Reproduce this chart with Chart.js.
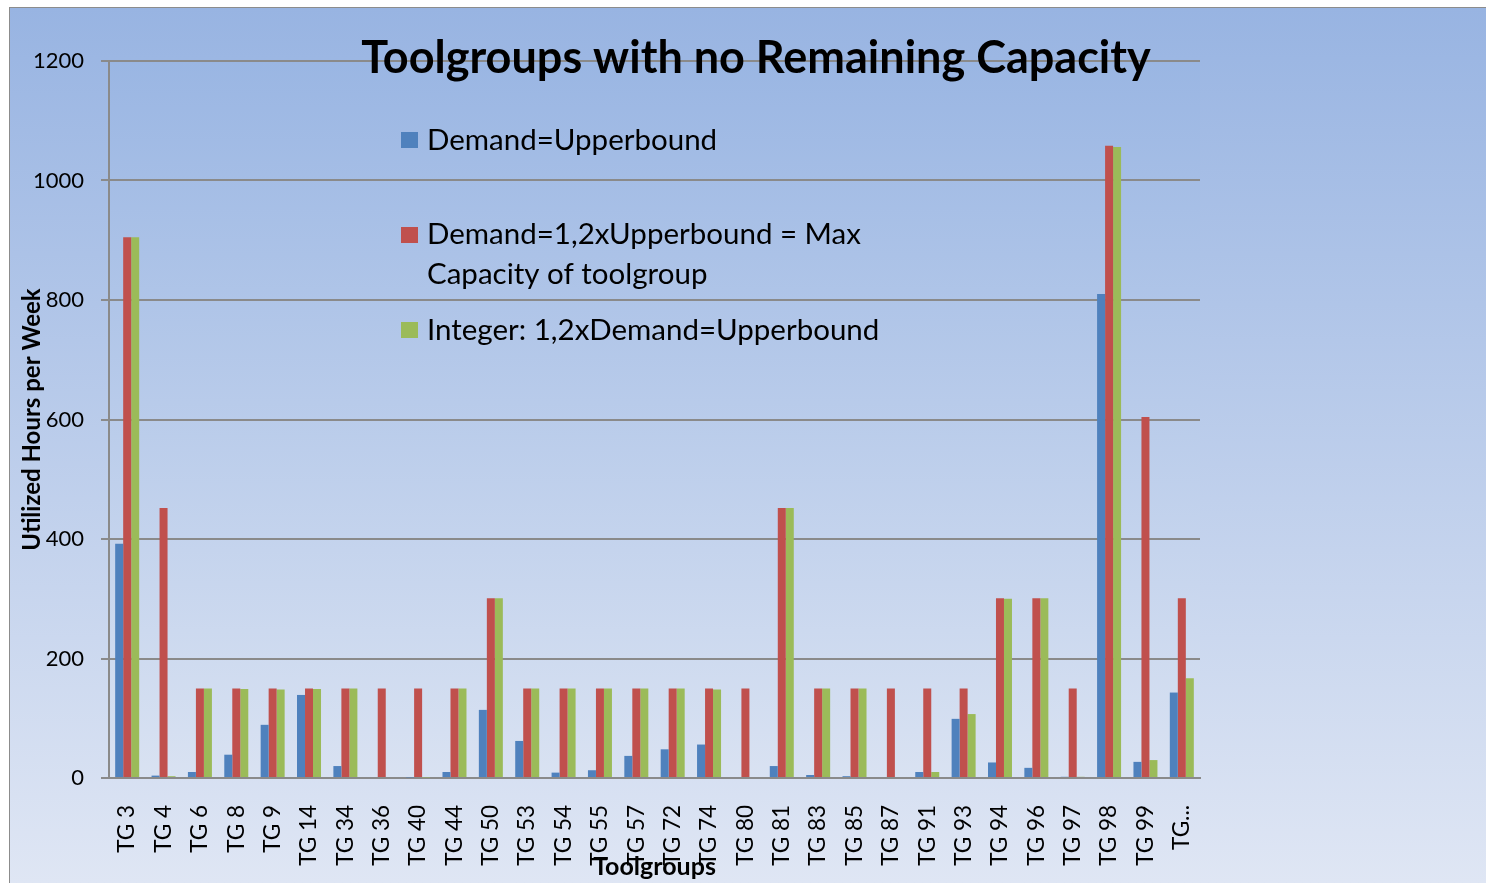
<!DOCTYPE html>
<html>
<head>
<meta charset="utf-8">
<script src="https://cdn.jsdelivr.net/npm/chart.js@4.4.0/dist/chart.umd.min.js"></script>
<style>
  body { margin: 0; background: #ffffff; overflow: hidden; }
  #frame {
    position: absolute; left: 9px; top: 7px; width: 1477px; height: 900px;
    border-left: 1px solid #8c8c8c; border-top: 1px solid #8c8c8c;
    background: linear-gradient(to bottom, #98b4e2 0px, #dfe6f4 875px);
  }
  #chart { position: absolute; left: 0; top: 0; }
</style>
</head>
<body>
<div id="frame"><canvas id="chart" width="1476" height="895"></canvas></div>
<script>
const toolgroups = ["TG 3","TG 4","TG 6","TG 8","TG 9","TG 14","TG 34","TG 36","TG 40","TG 44",
  "TG 50","TG 53","TG 54","TG 55","TG 57","TG 72","TG 74","TG 80","TG 81","TG 83",
  "TG 85","TG 87","TG 91","TG 93","TG 94","TG 96","TG 97","TG 98","TG 99","TG..."]

const demandUpper = [392, 4, 10, 39, 89, 139, 20, 0, 1, 10,
  114, 62, 9, 13, 37, 48, 56, 0, 20, 5,
  3, 0, 10, 99, 26, 17, 2, 810, 27, 143]

const demandMax = [905, 452, 150, 150, 150, 150, 150, 150, 150, 150,
  301, 150, 150, 150, 150, 150, 150, 150, 452, 150,
  150, 150, 150, 150, 301, 301, 150, 1058, 604, 301]

const integerDemand = [905, 3, 150, 149, 148, 149, 150, 0, 1, 150,
  301, 150, 150, 150, 150, 150, 148, 0, 452, 150,
  150, 0, 10, 107, 300, 301, 2, 1056, 30, 167]

const seriesNames = ["Demand=Upperbound", "Demand=1,2xUpperbound = Max Capacity of toolgroup", "Integer: 1,2xDemand=Upperbound"]
const seriesColors = ["#4f81bd", "#c0504d", "#9bbb59"]
const yTicks = [0, 200, 400, 600, 800, 1000, 1200]

const chartTitle = "Toolgroups with no Remaining Capacity"
const yTitle = "Utilized Hours per Week"
const xTitle = "Toolgroups"

const gridGray = "#8a8a8a"
Chart.defaults.font.family = "Lato, 'Open Sans', sans-serif"
Chart.defaults.color = "#000000"

// plot area fill, slightly different from the outer background
const plotFill = {
  id: "plotFill",
  beforeDraw(chart) {
    const {ctx, chartArea: a} = chart
    const g = ctx.createLinearGradient(0, a.top, 0, a.bottom)
    g.addColorStop(0, "#9ab6e3")
    g.addColorStop(1, "#d9e2f2")
    ctx.save()
    ctx.fillStyle = g
    ctx.fillRect(a.left, a.top, a.right - a.left, a.bottom - a.top)
    ctx.restore()
  }
}

// title and legend sit inside the plot, like the original
const overlay = {
  id: "overlay",
  afterDraw(chart) {
    const ctx = chart.ctx
    ctx.save()
    ctx.fillStyle = "#000000"
    ctx.textAlign = "center"
    ctx.textBaseline = "alphabetic"
    ctx.font = "bold 45px Lato"
    ctx.fillText(chartTitle, 746, 65)

    const rows = [
      {lines: ["Demand=Upperbound"], top: 124, base: 142},
      {lines: ["Demand=1,2xUpperbound = Max", "Capacity of toolgroup"], top: 219, base: 236},
      {lines: ["Integer: 1,2xDemand=Upperbound"], top: 314, base: 332}
    ]
    ctx.textAlign = "left"
    ctx.font = "29.5px Lato"
    rows.forEach((r, i) => {
      ctx.fillStyle = seriesColors[i]
      ctx.fillRect(391, r.top, 17, 16)
      ctx.fillStyle = "#000000"
      r.lines.forEach((t, j) => ctx.fillText(t, 417, r.base + j * 40))
    })
    ctx.restore()
  }
}

const datasets = [demandUpper, demandMax, integerDemand].map((d, i) => ({
  label: seriesNames[i],
  data: d,
  backgroundColor: seriesColors[i],
  borderWidth: 0,
  categoryPercentage: 0.66,
  barPercentage: 1.0
}))

new Chart(document.getElementById("chart"), {
  type: "bar",
  data: { labels: toolgroups, datasets: datasets },
  options: {
    responsive: false,
    animation: false,
    layout: { padding: { left: 0, top: 53, right: 286, bottom: 0 } },
    plugins: { legend: { display: false }, title: { display: false }, tooltip: { enabled: false } },
    scales: {
      x: {
        afterFit: s => { s.height = 125 },
        grid: { display: false, drawTicks: false },
        border: { display: true, color: gridGray, width: 2 },
        ticks: { autoSkip: false, minRotation: 90, maxRotation: 90, padding: 27, font: { size: 22.5 } },
        title: { display: true, text: xTitle, font: { size: 25, weight: "bold" }, padding: { top: 0, bottom: 21 } }
      },
      y: {
        min: 0, max: 1200,
        afterFit: s => { s.width = 99 },
        afterBuildTicks: s => { s.ticks = yTicks.map(v => ({ value: v })) },
        grid: { color: gridGray, lineWidth: 2, tickLength: 8, drawTicks: true },
        border: { display: true, color: gridGray, width: 2 },
        ticks: { padding: 17, font: { size: 22 }, callback: v => String(v) },
        title: { display: true, text: yTitle, font: { size: 24, weight: "bold" }, padding: { top: 8, bottom: 0 } }
      }
    }
  },
  plugins: [plotFill, overlay]
})
</script>
</body>
</html>
